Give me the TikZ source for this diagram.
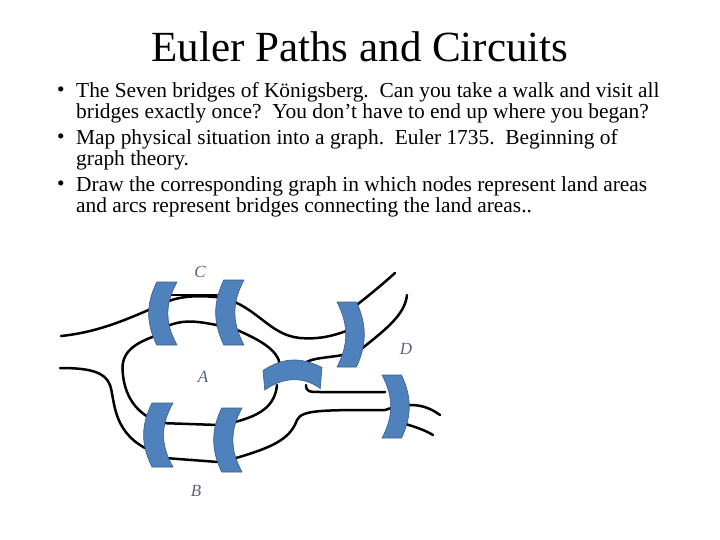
\documentclass[tikz,border=0pt]{standalone}
\usepackage{fontspec}
\setmainfont{Liberation Serif}
\definecolor{bridgeblue}{RGB}{79,129,189}
\definecolor{bridgeedge}{RGB}{56,93,138}
\definecolor{labelgray}{RGB}{90,100,120}
\begin{document}
\begin{tikzpicture}[x=1pt,y=-1pt,
  bank/.style={line width=2.5pt,line cap=round,line join=round},
  lbl/.style={font=\fontsize{17}{17}\selectfont\itshape,text=labelgray},
  para/.style={anchor=north west,align=left,inner sep=0pt,font=\fontsize{21.4}{21.5}\selectfont},
  bul/.style={anchor=base west,inner sep=0pt,font=\fontsize{21.4}{21.5}\selectfont},
  lbr/.pic={\filldraw[fill=bridgeblue,draw=bridgeedge,line width=0.6pt]
     (0.25,0) -- (1,0) .. controls (0.55,0.35) and (0.55,0.65) .. (1,1) -- (0.25,1)
     .. controls (-0.15,0.65) and (-0.15,0.35) .. (0.25,0) -- cycle;},
  arch/.pic={\filldraw[fill=bridgeblue,draw=bridgeedge,line width=0.6pt]
     (0,0.35) .. controls (0.35,-0.1) and (0.65,-0.1) .. (1,0.25) -- (0.97,0.95)
     .. controls (0.7,0.55) and (0.35,0.55) .. (0.03,1) -- cycle;}]
\useasboundingbox (0,0) rectangle (720,540);
\node[font=\fontsize{43}{45}\selectfont] (title) at (360,47) {Euler Paths and Circuits};
\node[bul] (b1) at (57,97) {•};
\node[para] (t1) at (76,82) {The Seven bridges of Königsberg.\ \ Can you take a walk and visit all\\bridges exactly once?\ \ You don’t have to end up where you began?};
\node[bul] (b2) at (57,144) {•};
\node[para] (t2) at (76,129) {Map physical situation into a graph.\ \ Euler 1735.\ \ Beginning of\\graph theory.};
\node[bul] (b3) at (57,191) {•};
\node[para] (t3) at (76,176) {Draw the corresponding graph in which nodes represent land areas\\and arcs represent bridges connecting the land areas..};
% river banks
\draw[bank] (61,336) .. controls (100,332) and (130,318) .. (160,305) .. controls (178,295) and (200,295) .. (225,298)
  .. controls (260,310) and (270,335) .. (300,338) .. controls (325,340) and (340,333) .. (355,328);
\draw[bank] (170,295) -- (217,295);
\draw[bank] (350,310) .. controls (370,295) and (385,282) .. (395,273);
\draw[bank] (407,295) .. controls (405,315) and (385,330) .. (360,350);
\draw[bank] (343,355) .. controls (325,358) and (312,358) .. (305,363);
\draw[bank] (155,336) .. controls (130,345) and (120,355) .. (123,375) .. controls (125,395) and (135,410) .. (150,418);
\draw[bank] (165,327) .. controls (185,318) and (200,322) .. (222,326);
\draw[bank] (237,330) .. controls (260,340) and (278,350) .. (280,365);
\draw[bank] (160,423) -- (218,425);
\draw[bank] (235,422) .. controls (262,415) and (275,405) .. (277,385);
\draw[bank] (60,368) .. controls (90,368) and (105,372) .. (110,385) .. controls (115,400) and (112,430) .. (145,448);
\draw[bank] (165,458) -- (218,462);
\draw[bank] (236,458) .. controls (270,448) and (290,440) .. (297,420) .. controls (302,410) and (320,410) .. (385,410)
  .. controls (400,405) and (420,400) .. (440,415);
\draw[bank] (402,423) .. controls (420,428) and (428,432) .. (433,435);
\draw[bank] (306,385) .. controls (306,392) and (310,392) .. (320,392) -- (385,392);
% bridges
\pic[xscale=27,yscale=63] at (150,282) {lbr};
\pic[xscale=27,yscale=65] at (217,280) {lbr};
\pic[xscale=-26,yscale=65] at (363,302) {lbr};
\pic[xscale=28,yscale=64] at (145,403) {lbr};
\pic[xscale=27,yscale=64] at (215,408) {lbr};
\pic[xscale=-26,yscale=63] at (408,375) {lbr};
\pic[xscale=59,yscale=30] at (263,360) {arch};
% labels
\node[lbl] (C) at (200,272) {C};
\node[lbl] (D) at (406,349) {D};
\node[lbl] (A) at (203,377) {A};
\node[lbl] (B) at (196,491) {B};
\end{tikzpicture}
\end{document}
